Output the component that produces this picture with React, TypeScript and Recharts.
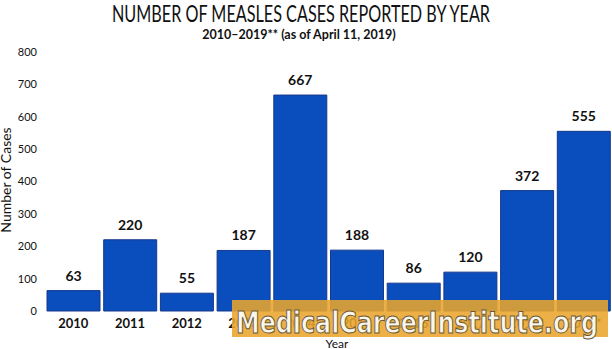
import React from 'react'
import { BarChart, Bar, XAxis, YAxis, LabelList } from 'recharts'

const years = ['2010', '2011', '2012', '2013', '2014', '2015', '2016', '2017', '2018*', '2019*']
const cases = [63, 220, 55, 187, 667, 188, 86, 120, 372, 555]
const yTicks = [0, 100, 200, 300, 400, 500, 600, 700, 800]

const data = years.map((year, i) => ({ year, cases: cases[i] }))

const W = 612
const H = 349
const FONT = 'Lato, "Open Sans", sans-serif'

export default function App() {
  return (
    <div style={{ position: 'fixed', top: 0, left: 0, width: W, height: H, background: '#fff', overflow: 'hidden' }}>
      <BarChart
        width={W}
        height={H}
        data={data}
        margin={{ top: 52, right: 0, left: 10, bottom: 0 }}
        barCategoryGap={2}
      >
        <XAxis
          dataKey="year"
          height={38}
          axisLine={false}
          tickLine={false}
          tickMargin={2}
          interval={0}
          tick={{ fill: '#111', fontSize: 13, fontWeight: 700, fontFamily: FONT }}
        />
        <YAxis
          width={35}
          domain={[0, 800]}
          ticks={yTicks}
          axisLine={false}
          tickLine={false}
          tick={{ fill: '#111', fontSize: 11, fontFamily: FONT }}
        />
        <Bar dataKey="cases" fill="#0a4dbd" stroke="#16398a" strokeWidth={1} isAnimationActive={false}>
          <LabelList
            dataKey="cases"
            position="top"
            offset={10}
            style={{ fill: '#111', fontSize: 14, fontWeight: 700, fontFamily: FONT }}
          />
        </Bar>
      </BarChart>

      {/* titles, axis names and the site banner */}
      <svg width={W} height={H} style={{ position: 'absolute', top: 0, left: 0, pointerEvents: 'none' }}>
        <text x={301} y={22} textAnchor="middle" fontFamily={FONT} fontSize={23} fill="#111" textLength={378} lengthAdjust="spacingAndGlyphs">
          NUMBER OF MEASLES CASES REPORTED BY YEAR
        </text>
        <text x={299} y={39} textAnchor="middle" fontFamily={FONT} fontSize={12.5} fontWeight={700} fill="#111">
          2010–2019** (as of April 11, 2019)
        </text>
        <text
          x={0}
          y={0}
          transform="translate(11,180) rotate(-90)"
          textAnchor="middle"
          fontFamily={FONT}
          fontSize={14}
          fill="#111"
        >
          Number of Cases
        </text>
        <rect x={232} y={300} width={376} height={37} fill="#e9a52c" fillOpacity={0.88} />
        <text
          x={236}
          y={333}
          fontFamily='"DejaVu Sans Condensed", "DejaVu Sans", sans-serif'
          fontSize={30}
          fontWeight={700}
          fill="#fbf6ea"
          stroke="#6b5a3a"
          strokeWidth={1}
          textLength={362}
          lengthAdjust="spacingAndGlyphs"
        >
          MedicalCareerInstitute.org
        </text>
        <text x={337} y={348} textAnchor="middle" fontFamily={FONT} fontSize={12} fill="#111">
          Year
        </text>
      </svg>
    </div>
  )
}
